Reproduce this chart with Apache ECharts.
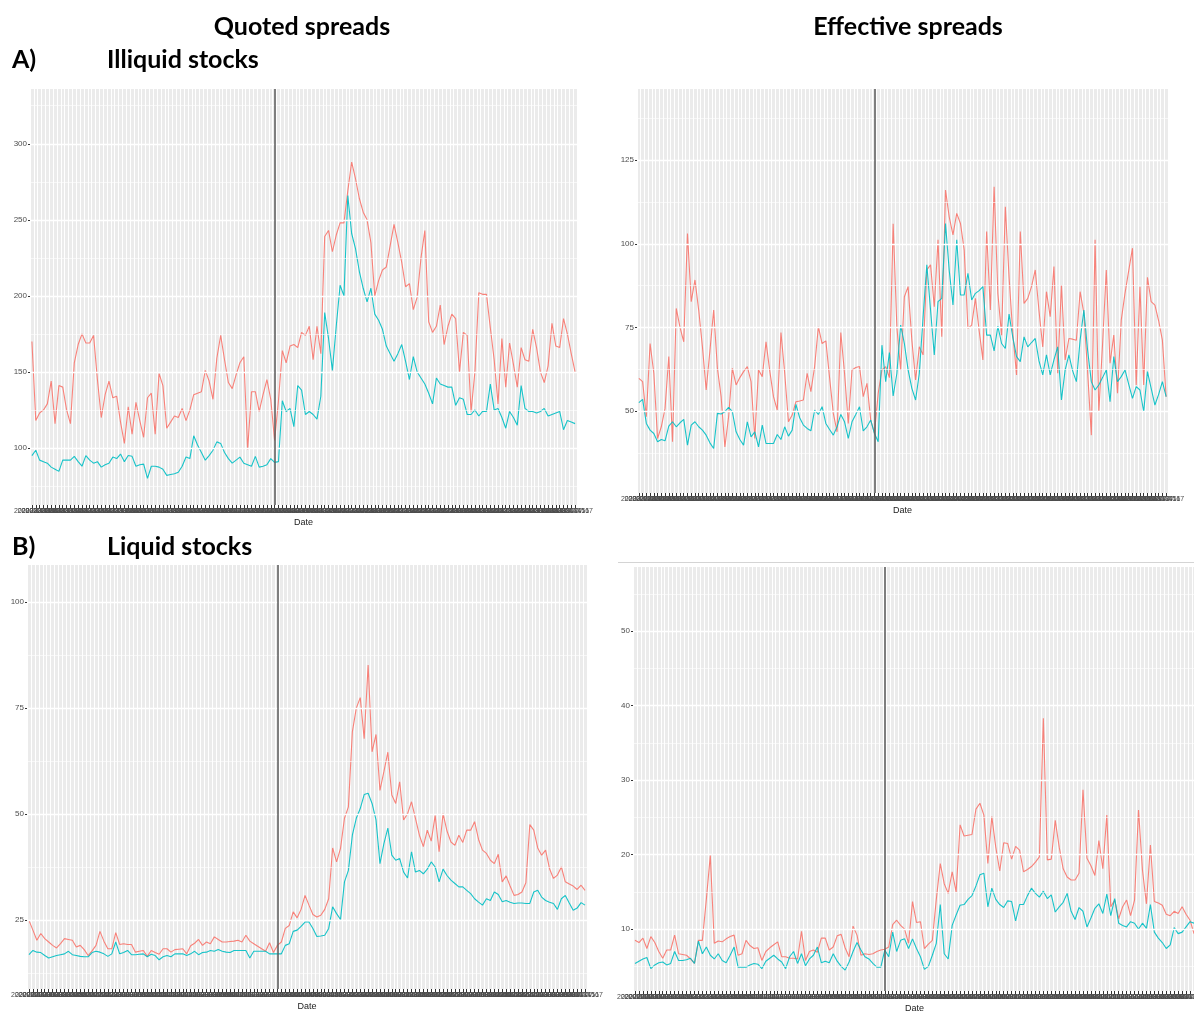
<!DOCTYPE html>
<html>
<head>
<meta charset="utf-8">
<script src="https://cdn.jsdelivr.net/npm/echarts@6/dist/echarts.min.js"></script>
<style>
html,body{margin:0;padding:0;background:#fff;}
#chart{width:1194px;height:1012px;}
</style>
</head>
<body>
<div id="chart"></div>
<script>
// ---------- categories (trading days) ----------
const dates = [];
(function () {
  const d = new Date(Date.UTC(2020, 0, 2));
  while (dates.length < 142) {
    const w = d.getUTCDay();
    if (w !== 0 && w !== 6) dates.push(d.toISOString().slice(0, 10));
    d.setUTCDate(d.getUTCDate() + 1);
  }
})();
const eventIndex = 63;

// ---------- A) Illiquid stocks, quoted spreads ----------
const quotedIlliquidRed = [
  170,118,123,125,129,144,116,141,140,125,
  116,156,168,175,169,169,174,145,120,135,
  144,133,134,117,103,127,109,130,118,107,
  133,136,109,149,141,113,117,121,120,126,
  118,125,135,136,137,151,144,132,159,174,
  158,143,139,148,156,160,99,137,137,124,
  135,145,132,105,131,164,156,167,168,166,
  176,174,180,158,180,162,239,243,229,240,
  248,248,269,288,277,264,255,250,235,200,
  210,217,219,233,247,235,222,206,208,191,
  199,225,243,183,176,180,194,168,180,188,
  185,150,176,174,124,150,202,201,201,179,
  158,129,172,140,169,155,140,166,158,157,
  178,166,150,143,154,182,167,166,185,175,
  162,150
];
const quotedIlliquidTeal = [
  95,98.5,92,91,90,87.4,86,84.6,92,92,
  92,94.5,91,88,95,92,90,91,87.4,89,
  90,94,93,96,91,95,94.5,88,89,89.4,
  80,88,88,87.4,86,82,82.5,83,84,88,
  94,93,108,102,97,92,95,98.5,104,103,
  97,93,90,92,94,90,89,88,94.5,87.4,
  88,89,93,90.5,91,131,124,126,114,141,
  138,122,124,122,119,134,189,172,151,180,
  207,200,266,241,231,216,205,196,205,188,
  184,178,167,162,157,162,168,157,145,160,
  150,146,142,136,129,146,142,141,140,140,
  128,133,132,122,122,125,121,124,124,142,
  125,126,120,113,124,120,115,141,126,124,
  124,123,124,126,121,122,123,124,112,118,
  117,116
];

// ---------- A) Illiquid stocks, effective spreads ----------
const effectiveIlliquidRed = [
  59.8,58.8,48.3,70.2,61.3,41.8,45.3,50.8,66.3,40.8,
  80.7,75,70.7,103.1,82.7,89.2,80.2,69.2,56.3,68,
  80.2,62.8,54.3,39.3,48.3,62.8,57.8,60,61.8,63.3,
  58.8,41.8,62.3,60.3,70.7,62,54.3,50.3,73.5,61.3,
  46.8,48.8,52.8,53,53.3,61.3,55.8,63.3,75.2,70.2,
  71,60,49.3,43.8,73.5,61.3,46.3,62.3,63,63.3,
  54.3,58.3,47.3,43.3,55.3,62.3,63.3,60,106,75,
  62.3,84.2,87.2,71.2,59.3,69.2,66.8,92.2,93.7,81.2,
  101.2,72.2,116.1,108,102.7,109.1,106.1,98.2,74.7,75.7,
  83.7,74,65.3,103.7,80.2,117.1,85.2,72.7,111.1,90,
  73.2,60.8,103.7,82.2,83.7,87.2,92.2,80,69.2,85.7,
  78.2,93.2,61.3,87.7,65.3,71.7,71.5,71.2,85.7,79.2,
  61.8,42.8,101.2,49.8,70,92.2,64.3,72.7,55.3,77.2,
  85.2,92,98.7,57.8,87.2,57.8,90,82.7,81.7,77,
  71.2,54.3
];
const effectiveIlliquidTeal = [
  52.5,53.5,46.3,44.3,43.3,40.8,41.5,41.1,45.5,46.8,
  45.3,46.5,47.5,39.8,45.8,46.8,45.3,44.3,42.8,40.5,
  38.8,49.3,49.1,49.8,51.1,49.8,43.8,41.5,39.8,46.8,
  42.3,43.8,39.3,45.8,40.3,40.3,40.3,43,41.5,45.3,
  42.5,44.3,52,48,45.8,44.8,44.1,50.3,49,51.3,
  46.3,44.5,42.8,45.3,49,46.8,41.8,46.8,49,51.3,
  44.1,45.3,47.3,43.3,40.8,69.7,58.8,67.5,54.5,61.3,
  75.7,70.2,62.3,56.8,53.3,61.3,78,93.7,80.2,66.8,
  82.7,83.7,106.1,92,81.7,101.2,84.7,84.7,91.2,83.2,
  85.2,86,87.2,72.7,72.7,68,75.4,70.2,68.7,79,
  72,66.3,64.8,72.2,69.2,70.5,71.7,65,60.8,66.8,
  60.8,65.3,69.2,53.3,62.3,66.8,62,58.8,71.2,80.2,
  68.2,58.8,56.3,57.8,60,62.3,52.8,66.3,58.8,60.3,
  62.3,58,53.8,57.3,56.3,49.8,61.8,56.8,51.8,55,
  58.8,54.3
];

// ---------- B) Liquid stocks, quoted spreads ----------
const quotedLiquidRed = [
  24.9,22.6,20.2,21.8,20.6,19.8,19,18.4,19.4,20.6,
  20.4,20.2,18.6,19,18,16.6,17.7,19,22.3,20,
  18.2,18.2,22,19.2,19.4,19.2,19.2,17.4,17.6,17.8,
  16.4,17.8,17.3,16.9,18.2,18.2,17.4,18,18.1,18.2,
  17,18.9,19.5,20.4,19,19.8,19.4,21,20.4,19.8,
  19.8,19.9,20,20.2,19.8,21.4,20,19.4,18.8,18.2,
  17.6,19.6,17.3,19,19.8,23,23.7,26.9,25.5,27.5,
  30.8,28.5,26.3,25.7,26.1,27.5,30,42,38.7,41.9,
  49,51.7,69.4,75,77.5,67.8,85.2,64.7,68.8,55.6,
  60,64.6,54.5,52.5,57.6,48.6,50.1,52.9,49,45,
  42.3,46.2,43.6,49.7,41.1,50.1,46,43.4,42.6,45,
  43.3,46.2,46.2,48.2,44,41.5,40.7,39.1,38.3,40.5,
  34,35.4,33,30.8,31,31.6,33.8,47.5,46.2,42,
  40.3,41.5,37.1,34.8,35.6,37.5,34,33.5,33,32.2,
  33.2,32
];
const quotedLiquidTeal = [
  16.8,17.8,17.4,17.3,16.6,16,16.3,16.6,16.8,17,
  17.6,16.8,16.6,16.4,16.3,16.3,17.3,17.6,17.4,17,
  16.4,17,19.8,17,17.3,17.8,16.8,16.8,16.9,17,
  16.3,16.9,16.6,15.6,16.3,16.6,16.3,17,17,17,
  16.6,17,17.6,16.8,17.3,17.4,17.8,17.6,18,17.6,
  17.4,17.3,17.8,17.8,17.8,17.8,16,17.6,17.6,17.6,
  17.6,17,17,17,17,19,19.4,22.3,22.6,23.5,
  24.5,24.5,23,21.1,21.2,21.4,23,28.1,26.5,25.1,
  34,36.7,45,49,51.3,54.6,54.9,52.5,48.6,38.3,
  43,46.7,40.3,39.1,39.5,36.3,34.9,41.1,36.3,36.7,
  35.9,37,38.7,37.5,34,37,35.5,34.4,33.6,32.8,
  32.8,32,31.2,30,29.2,28.5,30,29.6,31.6,31,
  29.3,29.6,29.2,28.9,29,29,28.9,28.9,31.6,32,
  30.4,29.6,29.2,28.9,27.5,30,30.8,29,27.3,27.8,
  29.1,28.5
];

// ---------- B) Liquid stocks, effective spreads ----------
const effectiveLiquidRed = [
  8.5,8.2,8.8,7.4,9,8.2,7,6.1,7.2,7.2,
  9.2,6.7,6.6,6.5,6,5.4,8.5,8.5,14,19.9,
  8.1,8.4,8.3,8.7,9,9.2,6.5,6.7,8.5,7.8,
  7.4,7.5,5.8,7,7.5,7.9,8.3,6.3,6.3,6.1,
  6.1,6,9.7,5.8,7,7.2,6.9,8.8,8.8,7.2,
  7.6,9.1,9.3,7.5,6.3,10.4,9.2,6.5,6.7,6.6,
  6.7,7,7.2,7.3,7.6,10.6,11.2,10.5,10,8.1,
  13.7,10.9,11,7.4,8,8.5,14,18.8,16.1,14.8,
  17.7,15,24,22.5,22.6,22.7,26.1,26.9,25.3,18.8,
  25.1,21,17.8,21.6,21.5,19.4,21.1,20.6,17.7,18,
  18.4,19,19.7,38.3,19.3,19.4,24.6,21,18.1,17,
  16.6,16.6,17.5,28.7,19.5,18.5,17.2,21.9,18.1,25.3,
  13,13.9,11.4,13,13.9,11.8,13.9,26,17.9,13.4,
  21.3,13.7,13.5,13.2,12,11.8,12.4,12.1,13,12,
  11.2,9.4
];
const effectiveLiquidTeal = [
  5.4,5.7,6,6.2,4.7,5.2,5.5,5.6,5.2,5.4,
  7,5.8,5.8,5.9,6.1,5.4,8.4,6.7,7.6,6.5,
  6,6.7,5.8,5.5,6.5,7.6,4.9,4.9,4.9,5.2,
  5.4,5.3,4.7,5.7,6.1,6.5,6,5.6,4.7,6.3,
  7,5.4,6.7,5.1,6,6.5,7.6,5.5,5.7,5.5,
  6.7,5.7,5,4.5,5.6,7,8.2,7.2,6.3,6,
  5.4,4.9,4.9,7.2,6.3,9.6,7,8.5,8.7,7.4,
  8.7,7.4,6.3,4.6,5,6.5,8.1,13.3,6.7,6,
  10.5,11.9,13.2,13.3,14,14.5,15.8,17.3,17.5,13,
  15.5,14,13.3,12.9,13.8,13.7,11.1,13.3,13.3,14.5,
  15.5,14.8,14.3,15.1,14.1,14.6,12.3,13,13.6,14.8,
  12.4,11.3,12.9,12.4,10.3,11.5,12.8,13.4,12.1,14.7,
  11.8,14.1,10.8,10.5,10.3,11,10.8,10,10.8,10.1,
  13.3,9.6,8.8,8.2,7.4,7.9,10.2,9.4,9.6,10.3,
  11,10.8
];

// ---------- y-axis tick labels ----------
const quotedIlliquidTicks = [100, 150, 200, 250, 300];
const effectiveIlliquidTicks = [50, 75, 100, 125];
const quotedLiquidTicks = [25, 50, 75, 100];
const effectiveLiquidTicks = [10, 20, 30, 40, 50];

// ---------- layout ----------
const panels = [
  { box: { left: 30, top: 89, width: 547, height: 416 }, yMin: 62.5, yMax: 336, ticks: quotedIlliquidTicks, step: 50, red: quotedIlliquidRed, teal: quotedIlliquidTeal },
  { box: { left: 637, top: 89, width: 531, height: 404 }, yMin: 25.5, yMax: 146.3, ticks: effectiveIlliquidTicks, step: 25, red: effectiveIlliquidRed, teal: effectiveIlliquidTeal },
  { box: { left: 27, top: 565, width: 560, height: 424 }, yMin: 8.7, yMax: 108.8, ticks: quotedLiquidTicks, step: 25, red: quotedLiquidRed, teal: quotedLiquidTeal },
  { box: { left: 633, top: 567, width: 563, height: 424 }, yMin: 1.7, yMax: 58.6, ticks: effectiveLiquidTicks, step: 10, red: effectiveLiquidRed, teal: effectiveLiquidTeal }
];

const RED = '#F8766D', TEAL = '#00BFC4';
const grids = [], xAxes = [], yAxes = [], series = [];

panels.forEach(function (p, k) {
  grids.push(Object.assign({ show: true, backgroundColor: '#EBEBEB', borderWidth: 0, containLabel: false, outerBoundsMode: 'none' }, p.box));
  xAxes.push({
    type: 'category', gridIndex: k, data: dates, boundaryGap: true,
    axisLine: { show: false },
    axisTick: { show: true, interval: 0, alignWithLabel: true, length: 3, lineStyle: { color: '#333', width: 1 } },
    axisLabel: { show: true, interval: 0, hideOverlap: false, fontSize: 7, color: '#4d4d4d', margin: 3, fontFamily: 'Liberation Sans' },
    splitLine: { show: true, interval: 0, lineStyle: { color: '#ffffff', width: 1 } },
    name: 'Date', nameLocation: 'middle', nameGap: 13,
    nameTextStyle: { fontSize: 9, color: '#222', fontFamily: 'Liberation Sans' }
  });
  yAxes.push({
    type: 'value', gridIndex: k, min: p.yMin, max: p.yMax,
    axisLine: { show: false },
    axisTick: { show: true, length: 2, lineStyle: { color: '#333' }, customValues: p.ticks },
    axisLabel: { fontSize: 8, color: '#4d4d4d', margin: 3, fontFamily: 'Liberation Sans', customValues: p.ticks },
    splitLine: { show: false }
  });
  // minor gridlines between (and around) the major ones
  const minor = [];
  for (let v = p.ticks[0] - p.step / 2; v <= p.yMax; v += p.step) if (v >= p.yMin) minor.push(v);
  const gridMarks = p.ticks.map(function (v) { return { yAxis: v, lineStyle: { color: '#ffffff', width: 1.3, type: 'solid' } }; })
    .concat(minor.map(function (v) { return { yAxis: v, lineStyle: { color: '#ffffff', width: 0.6, type: 'solid' } }; }));
  series.push({
    type: 'line', xAxisIndex: k, yAxisIndex: k, data: p.teal, z: 1, silent: true,
    symbol: 'none', lineStyle: { opacity: 0 },
    markLine: { silent: true, symbol: ['none', 'none'], label: { show: false }, animation: false,
      lineStyle: { type: 'solid', color: '#fff' }, data: gridMarks }
  });
  series.push({
    type: 'line', xAxisIndex: k, yAxisIndex: k, data: p.red, z: 3,
    symbol: 'none', lineStyle: { color: RED, width: 1.1, opacity: 0.9 }, itemStyle: { color: RED }
  });
  series.push({
    type: 'line', xAxisIndex: k, yAxisIndex: k, data: p.teal, z: 4,
    symbol: 'none', lineStyle: { color: TEAL, width: 1.1, opacity: 0.9 }, itemStyle: { color: TEAL },
    markLine: { silent: true, symbol: ['none', 'none'], label: { show: false }, animation: false,
      lineStyle: { type: 'solid', color: '#5a5a5a', width: 1.5 },
      data: [{ xAxis: dates[eventIndex] }] }
  });
});

const titleFont = 'bold 25px Lato';
const graphics = [
  { type: 'text', x: 302, y: 27, style: { text: 'Quoted spreads', font: titleFont, fill: '#000', align: 'center', verticalAlign: 'middle', textAlign: 'center', textVerticalAlign: 'middle' } },
  { type: 'text', x: 908, y: 27, style: { text: 'Effective spreads', font: titleFont, fill: '#000', align: 'center', verticalAlign: 'middle', textAlign: 'center', textVerticalAlign: 'middle' } },
  { type: 'text', x: 12, y: 60, style: { text: 'A)', font: titleFont, fill: '#000', align: 'left', verticalAlign: 'middle', textAlign: 'left', textVerticalAlign: 'middle' } },
  { type: 'text', x: 107, y: 60, style: { text: 'Illiquid stocks', font: titleFont, fill: '#000', align: 'left', verticalAlign: 'middle', textAlign: 'left', textVerticalAlign: 'middle' } },
  { type: 'text', x: 12, y: 547, style: { text: 'B)', font: titleFont, fill: '#000', align: 'left', verticalAlign: 'middle', textAlign: 'left', textVerticalAlign: 'middle' } },
  { type: 'text', x: 107, y: 547, style: { text: 'Liquid stocks', font: titleFont, fill: '#000', align: 'left', verticalAlign: 'middle', textAlign: 'left', textVerticalAlign: 'middle' } },
  { type: 'line', shape: { x1: 618, y1: 562.5, x2: 1194, y2: 562.5 }, style: { stroke: '#d4d4d4', lineWidth: 1 } }
];

const chart = echarts.init(document.getElementById('chart'), null, { renderer: 'canvas' });
chart.setOption({
  animation: false,
  backgroundColor: '#ffffff',
  grid: grids,
  xAxis: xAxes,
  yAxis: yAxes,
  series: series,
  graphic: graphics
});
</script>
</body>
</html>
